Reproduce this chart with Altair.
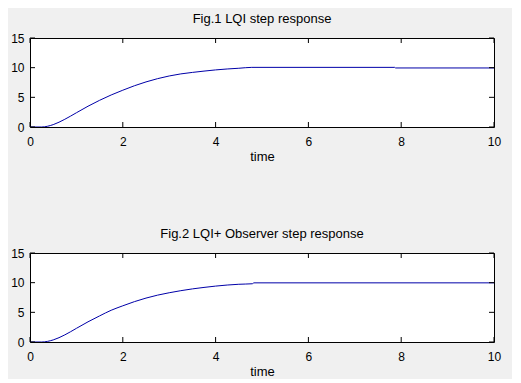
import altair as alt
import pandas as pd

# Fig.1 LQI step response
t1 = [0, 0.25, 0.5, 0.75, 1.0, 1.25, 1.5, 1.75, 2.0, 2.25, 2.5, 2.75, 3.0, 3.25, 3.5, 3.75,
      4.0, 4.25, 4.5, 4.78, 7.86, 7.88, 10]
y1 = [0, 0, 0.4, 1.3, 2.4, 3.5, 4.5, 5.4, 6.2, 6.95, 7.6, 8.15, 8.6, 8.95, 9.2, 9.42,
      9.62, 9.78, 9.9, 10.05, 10.05, 9.95, 9.95]

# Fig.2 LQI+ Observer step response
t2 = [0, 0.25, 0.5, 0.75, 1.0, 1.25, 1.5, 1.75, 2.0, 2.25, 2.5, 2.75, 3.0, 3.25, 3.5, 3.75,
      4.0, 4.25, 4.5, 4.8, 4.82, 10]
y2 = [0, 0, 0.35, 1.2, 2.3, 3.4, 4.4, 5.35, 6.1, 6.8, 7.4, 7.9, 8.3, 8.65, 8.95, 9.2,
      9.42, 9.6, 9.73, 9.82, 9.97, 9.97]

x_ticks = [0, 2, 4, 6, 8, 10]
y_ticks = [0, 5, 10, 15]
titles = ["Fig.1 LQI step response", "Fig.2 LQI+ Observer step response"]
x_title = "time"

W, H = 464, 89
TL = 5
FONT = "Liberation Sans"
LINE = "#0000a8"


def panel(t, y, title):
    df = pd.DataFrame({"t": t, "y": y})
    xs = alt.Scale(domain=[0, 10], nice=False, zero=False)
    ys = alt.Scale(domain=[0, 15], nice=False, zero=False)
    xax = alt.Axis(values=x_ticks, ticks=False, grid=False, domain=False,
                   labelFlush=False, labelPadding=9, title=x_title,
                   titlePadding=3, titleFontWeight="normal", titleFontSize=13,
                   labelFontSize=12, labelColor="black", titleColor="black",
                   labelFont=FONT, titleFont=FONT, format="d")
    yax = alt.Axis(values=y_ticks, ticks=False, grid=False, domain=False,
                   labelFlush=False, labelPadding=6, title=None,
                   labelFontSize=12, labelColor="black", labelFont=FONT, format="d")
    line = alt.Chart(df).mark_line(color=LINE, strokeWidth=1, clip=True,
                                   interpolate="monotone").encode(
        x=alt.X("t:Q", scale=xs, axis=xax),
        y=alt.Y("y:Q", scale=ys, axis=yax),
    )
    xt = pd.DataFrame({"t": x_ticks})
    yt = pd.DataFrame({"y": y_ticks})
    top = alt.Chart(xt).mark_rule(color="black", strokeWidth=1).encode(
        x=alt.X("t:Q", scale=xs, axis=xax), y=alt.value(0), y2=alt.value(TL))
    bot = alt.Chart(xt).mark_rule(color="black", strokeWidth=1).encode(
        x=alt.X("t:Q", scale=xs, axis=xax), y=alt.value(H - TL), y2=alt.value(H))
    left = alt.Chart(yt).mark_rule(color="black", strokeWidth=1).encode(
        y=alt.Y("y:Q", scale=ys, axis=yax), x=alt.value(0), x2=alt.value(TL))
    right = alt.Chart(yt).mark_rule(color="black", strokeWidth=1).encode(
        y=alt.Y("y:Q", scale=ys, axis=yax), x=alt.value(W - TL), x2=alt.value(W))
    return alt.layer(line, top, bot, left, right).properties(
        width=W, height=H,
        title=alt.TitleParams(title, fontSize=13, fontWeight="normal", font=FONT,
                              color="black", anchor="middle", offset=6),
    )


chart = alt.vconcat(panel(t1, y1, titles[0]), panel(t2, y2, titles[1]), spacing=63).properties(
    padding={"left": 2, "top": 4, "right": 10, "bottom": 0},
).configure(background="#f0f0f0").configure_view(fill="white", stroke="black", strokeWidth=1)

chart.save("out.html", embed_options={"renderer": "svg", "actions": False})
